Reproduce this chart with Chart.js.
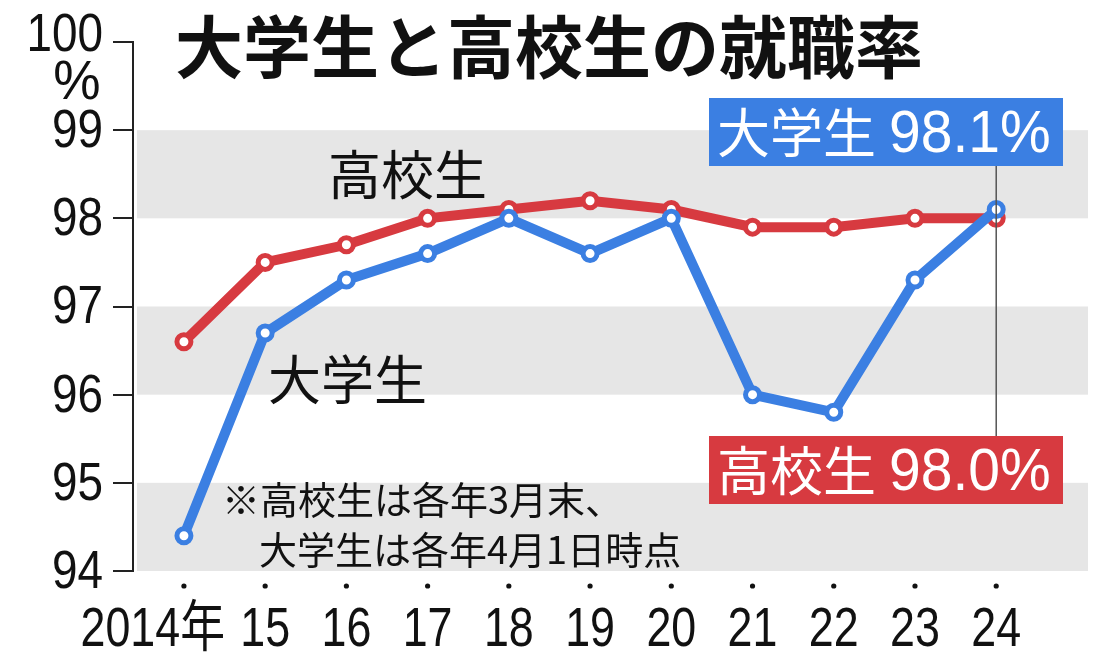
<!DOCTYPE html>
<html>
<head>
<meta charset="utf-8">
<script src="https://cdn.jsdelivr.net/npm/chart.js@4.4.1/dist/chart.umd.min.js"></script>
<style>
  html, body { margin: 0; padding: 0; background: #fff; }
  #wrap { width: 1100px; height: 670px; position: relative; }
</style>
</head>
<body>
<div id="wrap"><canvas id="rateChart"></canvas></div>
<script>
// 就職率データ（%）
const years = ["2014年", "15", "16", "17", "18", "19", "20", "21", "22", "23", "24"]
const daigakusei = [94.4, 96.7, 97.3, 97.6, 98.0, 97.6, 98.0, 96.0, 95.8, 97.3, 98.1]
const koukousei = [96.6, 97.5, 97.7, 98.0, 98.1, 98.2, 98.1, 97.9, 97.9, 98.0, 98.0]
const yTicks = [94, 95, 96, 97, 98, 99, 100]
const bands = [[98, 99], [96, 97], [94, 95]]

const BLUE = "#3b7fe2"
const RED = "#d73a40"
const JP = '"Noto Sans CJK JP", "Noto Sans", sans-serif'
const NUM = '"Liberation Sans", Arial, "Noto Sans CJK JP", sans-serif'

const toPoints = (arr) => arr.map((v, i) => ({ x: i, y: v }))

// text squeezed horizontally (the original uses a condensed face)
function narrowText(ctx, text, x, y, sx) {
  ctx.save()
  ctx.translate(x, y)
  ctx.scale(sx, 1)
  ctx.fillText(text, 0, 0)
  ctx.restore()
}

// gray bands behind the lines
const bandPlugin = {
  id: "bands",
  beforeDatasetsDraw(chart) {
    const { ctx, chartArea, scales } = chart
    ctx.save()
    ctx.fillStyle = "#e6e6e6"
    bands.forEach(([lo, hi]) => {
      const top = scales.y.getPixelForValue(hi)
      const bottom = scales.y.getPixelForValue(lo)
      ctx.fillRect(chartArea.left + 4, top, chartArea.right - chartArea.left - 4, bottom - top)
    })
    ctx.restore()
  },
}

// axis labels, title, notes, end-value boxes
const textPlugin = {
  id: "texts",
  afterDraw(chart) {
    const { ctx, scales } = chart
    const last = years.length - 1
    const xLast = scales.x.getPixelForValue(last)
    ctx.save()
    ctx.fillStyle = "#111"
    ctx.textBaseline = "middle"

    // y labels
    ctx.textAlign = "right"
    ctx.font = "54px " + NUM
    yTicks.forEach((v) => {
      const py = scales.y.getPixelForValue(v) + (v === 100 ? -6 : 2)
      narrowText(ctx, String(v), 103, py, 0.85)
    })
    ctx.textAlign = "center"
    ctx.font = "56px " + NUM
    narrowText(ctx, "%", 77, 84, 0.95)

    // x labels and dots
    ctx.font = "56px " + NUM
    years.forEach((label, i) => {
      const px = scales.x.getPixelForValue(i)
      ctx.beginPath()
      ctx.arc(px, 586, 2.6, 0, Math.PI * 2)
      ctx.fill()
      if (i === 0) {
        ctx.textAlign = "right"
        narrowText(ctx, label, px + 41, 631, 0.8)
      } else {
        ctx.textAlign = "center"
        narrowText(ctx, label, px, 631, 0.8)
      }
    })

    // title
    ctx.textAlign = "center"
    ctx.font = "bold 68px " + JP
    ctx.fillText("大学生と高校生の就職率", 549, 47)

    // series labels
    ctx.textAlign = "left"
    ctx.font = "53px " + JP
    ctx.fillText("高校生", 328, 175)
    ctx.fillText("大学生", 268, 380)

    // note
    ctx.font = "38px " + JP
    ctx.fillText("※高校生は各年3月末、", 222, 500)
    ctx.fillText("大学生は各年4月1日時点", 259, 550)

    // connector line
    ctx.strokeStyle = "#555"
    ctx.lineWidth = 1.5
    ctx.beginPath()
    ctx.moveTo(xLast, 165)
    ctx.lineTo(xLast, 437)
    ctx.stroke()

    // end-value boxes
    const boxes = [
      { color: BLUE, name: "大学生", value: daigakusei[last], x: 709, y: 98 },
      { color: RED, name: "高校生", value: koukousei[last], x: 709, y: 436 },
    ]
    boxes.forEach((b) => {
      ctx.fillStyle = b.color
      ctx.fillRect(b.x, b.y, 354, 68)
      ctx.fillStyle = "#fff"
      ctx.font = "53px " + JP
      ctx.fillText(b.name, b.x + 8, b.y + 35)
      ctx.font = "60px " + NUM
      narrowText(ctx, b.value.toFixed(1) + "%", b.x + 180, b.y + 37, 0.95)
    })
    ctx.restore()
  },
}

new Chart(document.getElementById("rateChart"), {
  type: "line",
  data: {
    datasets: [
      {
        label: "大学生",
        data: toPoints(daigakusei),
        borderColor: BLUE,
        borderWidth: 10,
        pointRadius: 7,
        pointBorderWidth: 5,
        pointBackgroundColor: "#fff",
        pointBorderColor: BLUE,
        tension: 0,
      },
      {
        label: "高校生",
        data: toPoints(koukousei),
        borderColor: RED,
        borderWidth: 10,
        pointRadius: 7,
        pointBorderWidth: 5,
        pointBackgroundColor: "#fff",
        pointBorderColor: RED,
        tension: 0,
      },
    ],
  },
  options: {
    responsive: true,
    maintainAspectRatio: false,
    animation: false,
    layout: { padding: { top: 42, right: 10, left: 0, bottom: 0 } },
    plugins: {
      legend: { display: false },
      tooltip: { enabled: false },
    },
    scales: {
      x: {
        type: "linear",
        min: -0.627,
        max: 11.13,
        afterFit: (scale) => {
          scale.height = 99
          scale.paddingLeft = 0
          scale.paddingRight = 0
        },
        border: { display: false },
        grid: { display: false, drawTicks: false },
        ticks: { display: false, stepSize: 1 },
      },
      y: {
        min: 94,
        max: 100,
        afterFit: (scale) => {
          scale.width = 133
          scale.paddingTop = 0
          scale.paddingBottom = 0
        },
        afterBuildTicks: (scale) => { scale.ticks = yTicks.map((v) => ({ value: v })) },
        border: { display: true, color: "#222", width: 2 },
        grid: { drawOnChartArea: false, drawTicks: true, tickLength: 20, color: "#222", lineWidth: 2 },
        ticks: { display: false },
      },
    },
  },
  plugins: [bandPlugin, textPlugin],
})
</script>
</body>
</html>
